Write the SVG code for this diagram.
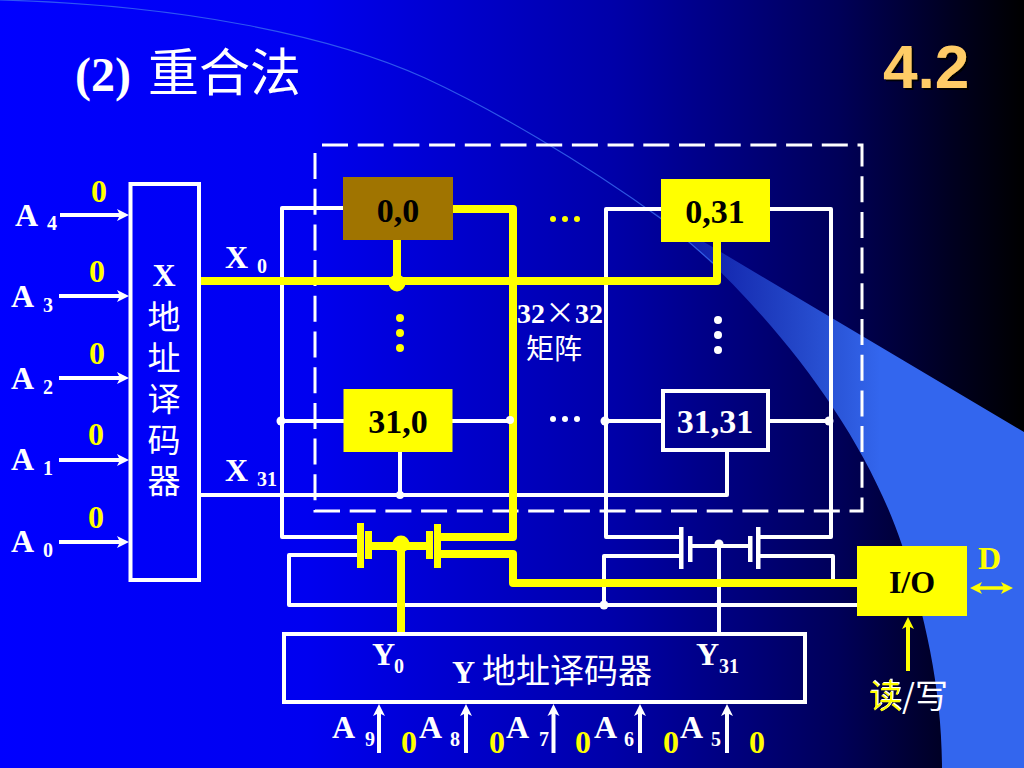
<svg xmlns="http://www.w3.org/2000/svg" width="1024" height="768" viewBox="0 0 1024 768">
<style>
text{font-family:"Liberation Serif","Noto Sans CJK SC",serif;fill:#fff}
.b{font-weight:bold;font-size:32px}
.cell{font-weight:bold;font-size:34px}
.s{font-weight:bold;font-size:20px}
.y{fill:#ff0}
.k{fill:#000}
.c{text-anchor:middle}
.cj{font-family:"Noto Sans CJK SC",sans-serif;font-weight:400}
.w{fill:none;stroke:#fff;stroke-width:4;stroke-linejoin:round}
.t{fill:none;stroke:#ff0;stroke-width:8;stroke-linejoin:round}
.ar{fill:none;stroke:#fff;stroke-width:4;marker-end:url(#wa)}
.dw{fill:#fff}
.dy{fill:#ff0}
</style>
<defs>
<linearGradient id="bg" x1="0" x2="1" y1="0" y2="0">
<stop offset="0" stop-color="#0000ff"/>
<stop offset="0.3" stop-color="#0000f0"/>
<stop offset="0.6" stop-color="#0000a8"/>
<stop offset="0.82" stop-color="#000058"/>
<stop offset="0.93" stop-color="#000020"/>
<stop offset="1" stop-color="#000000"/>
</linearGradient>
<linearGradient id="sw" gradientUnits="userSpaceOnUse" x1="640" y1="0" x2="880" y2="0">
<stop offset="0" stop-color="#3366ff" stop-opacity="0.1"/>
<stop offset="1" stop-color="#3366ee" stop-opacity="1"/>
</linearGradient>
<marker id="wa" markerUnits="userSpaceOnUse" markerWidth="16" markerHeight="16" refX="6" refY="8" orient="auto"><path d="M0,2L12,8L0,14L3,8z" fill="#fff"/></marker>
<marker id="ya" markerUnits="userSpaceOnUse" markerWidth="16" markerHeight="16" refX="6" refY="8" orient="auto"><path d="M0,2L12,8L0,14L3,8z" fill="#ff0"/></marker>
<marker id="ys" markerUnits="userSpaceOnUse" markerWidth="16" markerHeight="16" refX="8" refY="8" orient="auto"><path d="M14,2L2,8L14,14L11,8z" fill="#ff0"/></marker>
<filter id="sh4" x="-10%" y="-10%" width="130%" height="130%"><feDropShadow dx="2" dy="2" stdDeviation="0.4" flood-color="#000" flood-opacity="0.9"/></filter>
<filter id="shw" x="-10%" y="-10%" width="130%" height="130%"><feDropShadow dx="1" dy="-1" stdDeviation="0.2" flood-color="#fff"/></filter>
</defs>

<g id="background">
<rect width="1024" height="768" fill="url(#bg)"/>
<path d="M640,204L1024,432V768H942C942,690 925,615 902,545C860,420 760,300 663,220z" fill="url(#sw)"/>
<path d="M0,0C180,5 330,35 425,78C490,108 580,160 663,220C680,234 697,249 713,263" fill="none" stroke="#3a6cf0" stroke-width="1.200" opacity="0.8"/>
</g>

<path id="matrix-border" d="M322,145H862V511H315V145" fill="none" stroke="#fff" stroke-width="3" stroke-dasharray="26 9.7"/>

<g id="connectors">
<path class="w" d="M344,208H282V537H358"/>
<path class="w" d="M661,209H606V537H681"/>
<path class="w" d="M770,209H831V537H760"/>
<path class="w" d="M282,421H344M452,421H510"/>
<path class="w" d="M606,421H661M770,421H829"/>
<path class="w" d="M199,495H727V452"/>
<path class="w" d="M400,452V495"/>
<path class="w" d="M358,555H289V605H858"/>
<path class="w" d="M681,556H604V605"/>
<path class="w" d="M760,556H833V583"/>
<path class="w" d="M692,546H748"/>
<path class="w" d="M719,546V633"/>
<g fill="#fff">
<rect x="679" y="527" width="4.500" height="42"/><rect x="688" y="536" width="4.500" height="26"/>
<rect x="748" y="536" width="4.500" height="26"/><rect x="756" y="527" width="4.500" height="42"/>
</g>
<path class="t" d="M199,281H717V240"/>
<path class="t" d="M397,240V281"/>
<path class="t" d="M452,209H513V537H440"/>
<path class="t" d="M440,554H513V583H858"/>
<path class="t" d="M372,546H428"/>
<path class="t" d="M401,546V633"/>
<g fill="#ff0">
<rect x="357" y="523" width="7" height="45"/><rect x="365" y="531" width="7" height="28"/>
<rect x="426" y="531" width="7" height="28"/><rect x="434" y="524" width="7" height="44"/>
</g>
<circle cx="397" cy="283" r="8.500" class="dy"/>
<circle cx="401" cy="544" r="8.500" class="dy"/>
<g class="dw">
<circle cx="281" cy="421" r="4.500"/><circle cx="510" cy="420" r="4"/>
<circle cx="605" cy="421" r="4.500"/><circle cx="829" cy="421" r="4.500"/>
<circle cx="400" cy="495" r="4"/><circle cx="719" cy="544" r="4.500"/><circle cx="604" cy="605" r="4.500"/>
</g>
<g class="dy"><circle cx="400" cy="318" r="4"/><circle cx="400" cy="333" r="4"/><circle cx="400" cy="348" r="4"/>
<circle cx="553" cy="219" r="3"/><circle cx="565" cy="219" r="3"/><circle cx="577" cy="219" r="3"/></g>
<g class="dw"><circle cx="718" cy="320" r="4"/><circle cx="718" cy="335" r="4"/><circle cx="718" cy="350" r="4"/>
<circle cx="553" cy="419" r="3"/><circle cx="565" cy="419" r="3"/><circle cx="577" cy="419" r="3"/></g>
<path class="ar" d="M60,215H123"/>
<path class="ar" d="M59,296H123"/>
<path class="ar" d="M59,378H123"/>
<path class="ar" d="M59,460H123"/>
<path class="ar" d="M59,542H123"/>
<path class="ar" d="M379,753V710"/>
<path class="ar" d="M466,753V710"/>
<path class="ar" d="M553.500,753V710"/>
<path class="ar" d="M640,753V710"/>
<path class="ar" d="M727,753V710"/>
<path d="M908,671V623" fill="none" stroke="#ff0" stroke-width="4" marker-end="url(#ya)"/>
<path d="M976,588H1007" fill="none" stroke="#ff0" stroke-width="3.500" marker-start="url(#ys)" marker-end="url(#ya)"/>
</g>

<g id="x-decoder">
<rect x="130.500" y="184" width="68.500" height="396" fill="none" stroke="#fff" stroke-width="4"/>
<text class="c" font-size="33"><tspan class="b" x="164" y="286">X</tspan><tspan x="164" y="329">地</tspan><tspan x="164" y="370">址</tspan><tspan x="164" y="411">译</tspan><tspan x="164" y="452">码</tspan><tspan x="164" y="493">器</tspan></text>
</g>

<g id="y-decoder">
<rect x="284" y="634" width="521" height="68" fill="none" stroke="#fff" stroke-width="4"/>
<text class="b" x="452" y="683">Y <tspan class="cj" font-size="34">地址译码器</tspan></text>
<text class="b" x="372" y="665">Y</text><text class="s" x="394" y="673">0</text>
<text class="b" x="696" y="665">Y</text><text class="s" x="719" y="673">31</text>
</g>

<g id="cell-0-0">
<rect x="343" y="177" width="110" height="63" fill="#a07400"/>
<text class="cell k c" x="398" y="222">0,0</text>
</g>
<g id="cell-0-31">
<rect x="661" y="179" width="109" height="63" fill="#ff0"/>
<text class="cell k c" x="715" y="223">0,31</text>
</g>
<g id="cell-31-0">
<rect x="343.500" y="389" width="109" height="63" fill="#ff0"/>
<text class="cell k c" x="398" y="433">31,0</text>
</g>
<g id="cell-31-31">
<rect x="663" y="391" width="105" height="59" fill="none" stroke="#fff" stroke-width="4"/>
<text class="cell c" x="715" y="433">31,31</text>
</g>
<g id="matrix-label">
<text font-size="28"><tspan x="517" y="323" font-weight="bold">32<tspan class="cj" font-size="30">×</tspan>32</tspan><tspan x="526" y="359">矩阵</tspan></text>
</g>
<g id="io">
<rect x="857" y="546" width="110" height="70" fill="#ff0"/>
<text class="b k c" x="912" y="593">I/O</text>
</g>

<g id="labels">
<text x="75" y="91" font-weight="bold" font-size="48">(2) <tspan class="cj" x="148" font-size="51">重合法</tspan></text>
<text x="883" y="88" font-size="62" font-weight="bold" filter="url(#sh4)" style="font-family:'Liberation Sans',sans-serif;fill:#ffcc66">4.2</text>
<text class="b y" x="978" y="569">D</text>
<text class="cj" x="869" y="708" font-size="33"><tspan class="y" filter="url(#shw)">读</tspan>/写</text>
<text class="b" x="15" y="226">A</text><text class="s" x="47" y="230">4</text>
<text class="b" x="11" y="307">A</text><text class="s" x="43" y="312">3</text>
<text class="b" x="11" y="389">A</text><text class="s" x="43" y="394">2</text>
<text class="b" x="11" y="470">A</text><text class="s" x="43" y="475">1</text>
<text class="b" x="11" y="552">A</text><text class="s" x="43" y="557">0</text>
<text class="b y c" x="99" y="202">0</text>
<text class="b y c" x="97" y="282">0</text>
<text class="b y c" x="97" y="364">0</text>
<text class="b y c" x="96" y="445">0</text>
<text class="b y c" x="96" y="528">0</text>
<text class="b" x="225" y="268">X</text><text class="s" x="257" y="273">0</text>
<text class="b" x="225" y="481">X</text><text class="s" x="257" y="486">31</text>
<text class="b" x="332" y="738">A</text><text class="s" x="365" y="746">9</text>
<text class="b" x="419" y="738">A</text><text class="s" x="450" y="746">8</text>
<text class="b" x="506" y="738">A</text><text class="s" x="539" y="746">7</text>
<text class="b" x="594" y="738">A</text><text class="s" x="624" y="746">6</text>
<text class="b" x="680" y="738">A</text><text class="s" x="711" y="746">5</text>
<text class="b y c" x="409" y="753">0</text>
<text class="b y c" x="497" y="753">0</text>
<text class="b y c" x="583" y="753">0</text>
<text class="b y c" x="671" y="753">0</text>
<text class="b y c" x="757" y="753">0</text>
</g>
</svg>
